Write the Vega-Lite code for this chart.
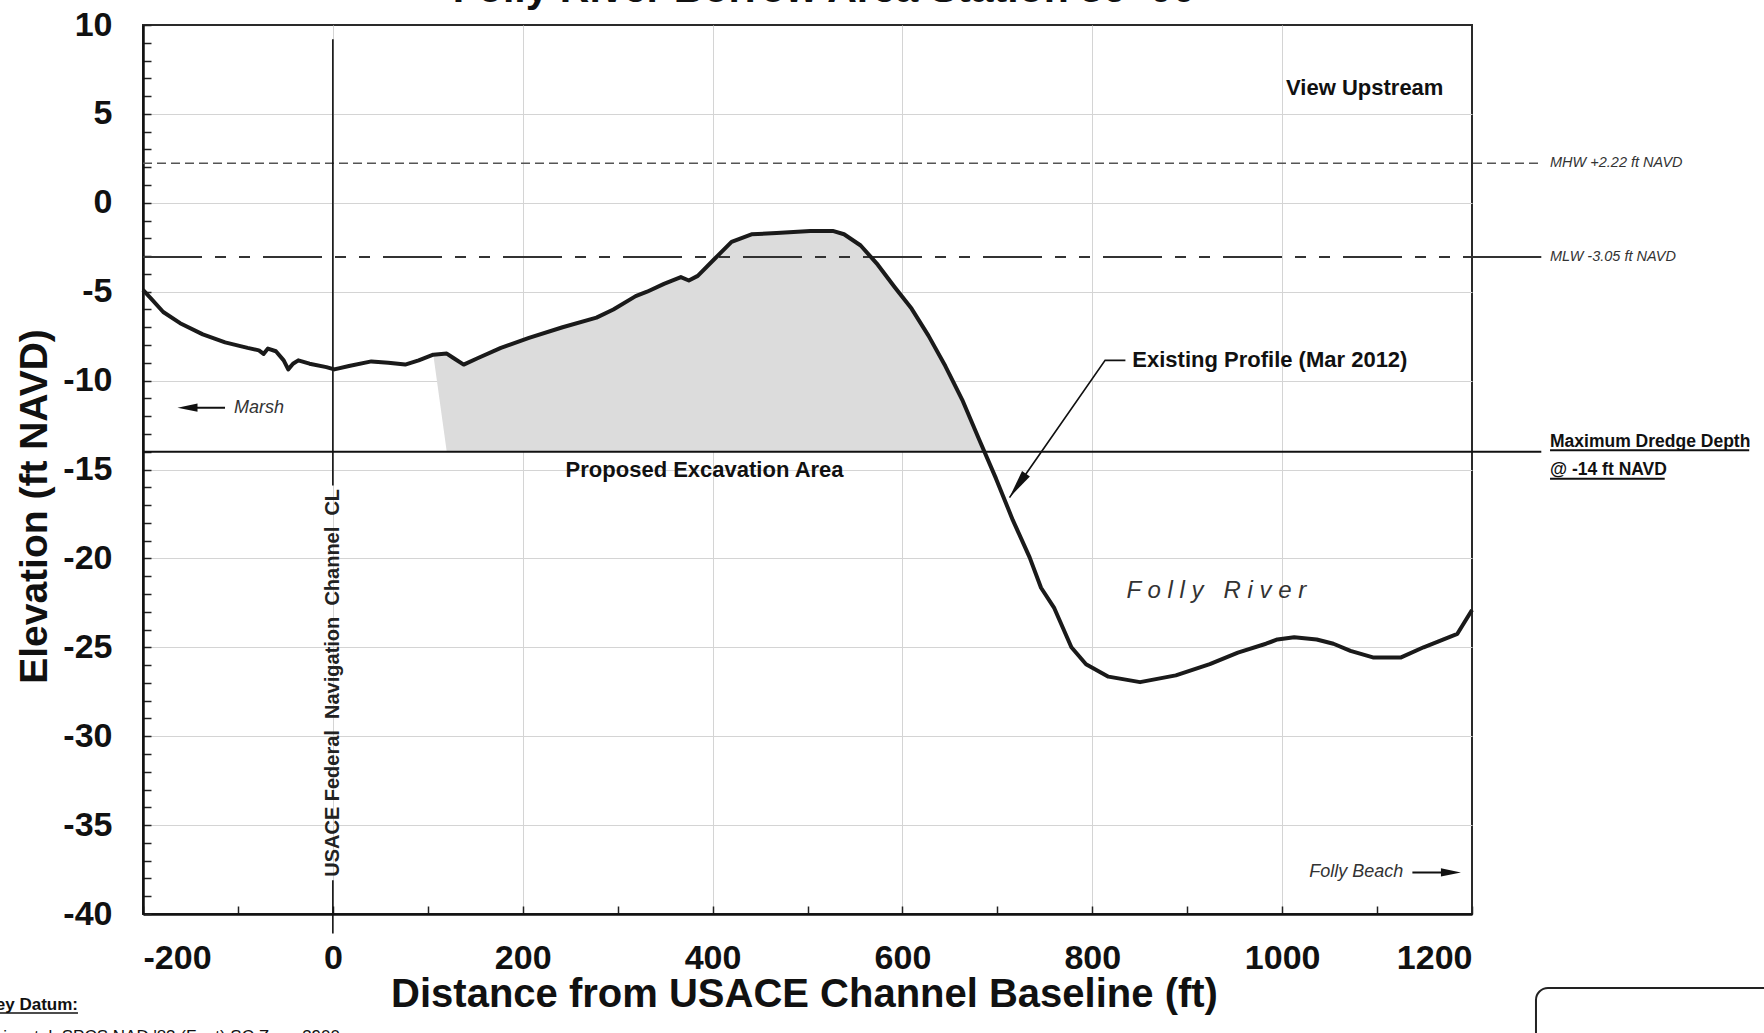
{
  "$schema": "https://vega.github.io/schema/vega-lite/v6.json",
  "width": 1329,
  "height": 889,
  "autosize": {"type": "none"},
  "padding": {"left": 143, "top": 25, "right": 292, "bottom": 119},
  "background": "white",
  "config": {
    "view": {"stroke": "#2a2a2a", "strokeWidth": 2},
    "axis": {
      "domainColor": "#111", "domainWidth": 2.5,
      "tickColor": "#222", "tickWidth": 1.5,
      "labelFont": "Liberation Sans", "labelFontWeight": "bold", "labelFontSize": 34, "labelColor": "#111",
      "titleFont": "Liberation Sans", "titleFontWeight": "bold", "titleColor": "#111",
      "gridColor": "#d4d4d4", "gridWidth": 1
    }
  },
  "encoding": {
    "x": {
      "field": "x", "type": "quantitative",
      "scale": {"domain": [-200, 1200], "nice": false, "zero": false},
      "axis": {
        "values": [-200, -100, 0, 100, 200, 300, 400, 500, 600, 700, 800, 900, 1000, 1100, 1200],
        "labelExpr": "datum.value % 200 === 0 ? '' + datum.value : ''",
        "tickSize": -8, "labelPadding": 35,
        "grid": true,
        "gridOpacity": {"condition": {"test": "datum.value % 200 === 0 && datum.value > -200 && datum.value < 1200", "value": 1}, "value": 0},
        "title": "Distance from USACE Channel Baseline (ft)",
        "titleFontSize": 40, "titleX": 661, "titleY": 80, "titleBaseline": "middle", "titleAlign": "center"
      }
    },
    "y": {
      "field": "y", "type": "quantitative",
      "scale": {"domain": [-40, 10], "nice": false, "zero": false},
      "axis": {
        "values": [-40,-39,-38,-37,-36,-35,-34,-33,-32,-31,-30,-29,-28,-27,-26,-25,-24,-23,-22,-21,-20,-19,-18,-17,-16,-15,-14,-13,-12,-11,-10,-9,-8,-7,-6,-5,-4,-3,-2,-1,0,1,2,3,4,5,6,7,8,9,10],
        "labelExpr": "datum.value % 5 === 0 ? '' + datum.value : ''",
        "tickSize": -8, "labelPadding": 39,
        "grid": true,
        "gridOpacity": {"condition": {"test": "datum.value % 5 === 0 && datum.value > -40 && datum.value < 10", "value": 1}, "value": 0},
        "title": "Elevation (ft NAVD)",
        "titleFontSize": 39, "titleAngle": 270, "titleX": -109, "titleY": 481, "titleBaseline": "middle", "titleAlign": "center"
      }
    }
  },
  "layer": [
    {
      "data": {"values": [
        {"x": 105.8, "y": -8.54, "y2": -8.54},
        {"x": 120, "y": -8.48, "y2": -14},
        {"x": 127, "y": -8.73, "y2": -14},
        {"x": 137.8, "y": -9.1, "y2": -14},
        {"x": 153, "y": -8.73, "y2": -14},
        {"x": 177, "y": -8.16, "y2": -14},
        {"x": 206.6, "y": -7.6, "y2": -14},
        {"x": 242, "y": -7.0, "y2": -14},
        {"x": 277.7, "y": -6.46, "y2": -14},
        {"x": 295.5, "y": -6.0, "y2": -14},
        {"x": 319, "y": -5.25, "y2": -14},
        {"x": 331, "y": -5.0, "y2": -14},
        {"x": 348.8, "y": -4.56, "y2": -14},
        {"x": 366.6, "y": -4.18, "y2": -14},
        {"x": 375, "y": -4.37, "y2": -14},
        {"x": 384.4, "y": -4.11, "y2": -14},
        {"x": 402, "y": -3.16, "y2": -14},
        {"x": 420, "y": -2.2, "y2": -14},
        {"x": 441, "y": -1.77, "y2": -14},
        {"x": 467.4, "y": -1.7, "y2": -14},
        {"x": 503, "y": -1.58, "y2": -14},
        {"x": 526.6, "y": -1.58, "y2": -14},
        {"x": 538.5, "y": -1.77, "y2": -14},
        {"x": 556, "y": -2.4, "y2": -14},
        {"x": 574, "y": -3.48, "y2": -14},
        {"x": 591.9, "y": -4.75, "y2": -14},
        {"x": 609.6, "y": -5.95, "y2": -14},
        {"x": 627.4, "y": -7.47, "y2": -14},
        {"x": 645.2, "y": -9.18, "y2": -14},
        {"x": 663, "y": -11.08, "y2": -14},
        {"x": 680.7, "y": -13.3, "y2": -14},
        {"x": 686.5, "y": -14, "y2": -14}
      ]},
      "mark": {"type": "area", "orient": "vertical", "color": "#dcdcdc", "opacity": 1},
      "encoding": {"y2": {"field": "y2"}}
    },
    {
      "data": {"values": [{"x": -200, "x2": 1273, "y": 2.22}]},
      "mark": {"type": "rule", "color": "#555", "strokeWidth": 1.5, "strokeDash": [9, 5]},
      "encoding": {"x2": {"field": "x2"}}
    },
    {
      "data": {"values": [{"x": -200, "x2": 1200, "y": -3.05}]},
      "mark": {"type": "rule", "color": "#333", "strokeWidth": 2, "strokeDash": [59, 13, 11, 13, 11, 13]},
      "encoding": {"x2": {"field": "x2"}}
    },
    {
      "data": {"values": [{"x": 1200, "x2": 1273, "y": -3.05}]},
      "mark": {"type": "rule", "color": "#333", "strokeWidth": 2},
      "encoding": {"x2": {"field": "x2"}}
    },
    {
      "data": {"values": [
        {"x": -200, "x2": 1273, "y": -14},
        {"x": 1282.2, "x2": 1492, "y": -13.92},
        {"x": 1282.2, "x2": 1403, "y": -15.52}
      ]},
      "mark": {"type": "rule", "color": "#111", "strokeWidth": 2},
      "encoding": {"x2": {"field": "x2"}}
    },
    {
      "data": {"values": [{"x": 0, "y": 9.2, "y2": -15.9}, {"x": 0, "y": -38.1, "y2": -41.1}]},
      "mark": {"type": "rule", "color": "#111", "strokeWidth": 1.6},
      "encoding": {"y2": {"field": "y2"}}
    },
    {
      "data": {"values": [
        {"x": -200, "y": -4.9}, {"x": -190.5, "y": -5.44}, {"x": -178.7, "y": -6.14}, {"x": -160.9, "y": -6.77},
        {"x": -137, "y": -7.4}, {"x": -113.5, "y": -7.85}, {"x": -89.8, "y": -8.16}, {"x": -77.9, "y": -8.3},
        {"x": -73, "y": -8.5}, {"x": -68.4, "y": -8.2}, {"x": -60, "y": -8.35}, {"x": -51.8, "y": -8.86},
        {"x": -47, "y": -9.37}, {"x": -42, "y": -9.05}, {"x": -36.4, "y": -8.86}, {"x": -24.6, "y": -9.05},
        {"x": -6.8, "y": -9.24}, {"x": 1.5, "y": -9.37}, {"x": 17, "y": -9.18}, {"x": 40.6, "y": -8.92},
        {"x": 58.4, "y": -8.99}, {"x": 76.2, "y": -9.1}, {"x": 90.4, "y": -8.86}, {"x": 105.8, "y": -8.54},
        {"x": 120, "y": -8.48}, {"x": 127, "y": -8.73}, {"x": 137.8, "y": -9.1}, {"x": 153, "y": -8.73},
        {"x": 177, "y": -8.16}, {"x": 206.6, "y": -7.6}, {"x": 242, "y": -7.0}, {"x": 277.7, "y": -6.46},
        {"x": 295.5, "y": -6.0}, {"x": 319, "y": -5.25}, {"x": 331, "y": -5.0}, {"x": 348.8, "y": -4.56},
        {"x": 366.6, "y": -4.18}, {"x": 375, "y": -4.37}, {"x": 384.4, "y": -4.11}, {"x": 402, "y": -3.16},
        {"x": 420, "y": -2.2}, {"x": 441, "y": -1.77}, {"x": 467.4, "y": -1.7}, {"x": 503, "y": -1.58},
        {"x": 526.6, "y": -1.58}, {"x": 538.5, "y": -1.77}, {"x": 556, "y": -2.4}, {"x": 574, "y": -3.48},
        {"x": 591.9, "y": -4.75}, {"x": 609.6, "y": -5.95}, {"x": 627.4, "y": -7.47}, {"x": 645.2, "y": -9.18},
        {"x": 663, "y": -11.08}, {"x": 680.7, "y": -13.3}, {"x": 698.5, "y": -15.5}, {"x": 716.3, "y": -17.85},
        {"x": 734, "y": -19.94}, {"x": 746, "y": -21.65}, {"x": 760, "y": -22.8}, {"x": 778, "y": -25.0},
        {"x": 793.4, "y": -25.95}, {"x": 817, "y": -26.65}, {"x": 850.3, "y": -26.96}, {"x": 888, "y": -26.58},
        {"x": 923.8, "y": -25.95}, {"x": 953.4, "y": -25.3}, {"x": 983, "y": -24.8}, {"x": 995, "y": -24.56},
        {"x": 1012.7, "y": -24.43}, {"x": 1036.4, "y": -24.56}, {"x": 1054, "y": -24.8}, {"x": 1072, "y": -25.2},
        {"x": 1095.6, "y": -25.57}, {"x": 1125.3, "y": -25.57}, {"x": 1149, "y": -25.0}, {"x": 1184.6, "y": -24.24},
        {"x": 1200, "y": -22.9}
      ]},
      "mark": {"type": "line", "color": "#1a1a1a", "strokeWidth": 4, "strokeJoin": "round"}
    },
    {
      "data": {"values": [
        {"x": 834.9, "y": -8.86, "o": 1}, {"x": 813.5, "y": -8.86, "o": 2}, {"x": 712.8, "y": -16.58, "o": 3}
      ]},
      "mark": {"type": "line", "color": "#111", "strokeWidth": 1.6},
      "encoding": {"order": {"field": "o"}}
    },
    {
      "data": {"values": [{"x": 721.4, "y": -15.91}]},
      "mark": {"type": "point", "shape": "M0,-1L-0.33,1L0.33,1Z", "angle": 214.9, "size": 841, "filled": true, "color": "#111", "opacity": 1}
    },
    {
      "data": {"values": [{"x": -113.6, "x2": -155, "y": -11.52}, {"x": 1137.2, "x2": 1180, "y": -37.66}]},
      "mark": {"type": "rule", "color": "#111", "strokeWidth": 2},
      "encoding": {"x2": {"field": "x2"}}
    },
    {
      "data": {"values": [{"x": -153.1, "y": -11.52}]},
      "mark": {"type": "point", "shape": "M-1,0L1,-0.42L1,0.42Z", "size": 400, "filled": true, "color": "#111", "opacity": 1}
    },
    {
      "data": {"values": [{"x": 1177.8, "y": -37.66}]},
      "mark": {"type": "point", "shape": "M1,0L-1,-0.42L-1,0.42Z", "size": 400, "filled": true, "color": "#111", "opacity": 1}
    },
    {
      "data": {"values": [{"x": 1169.9, "y": 6.46, "t": "View Upstream"}]},
      "mark": {"type": "text", "font": "Liberation Sans", "fontWeight": "bold", "fontSize": 22, "align": "right", "baseline": "middle", "color": "#111"},
      "encoding": {"text": {"field": "t"}}
    },
    {
      "data": {"values": [{"x": 842.2, "y": -8.86, "t": "Existing Profile (Mar 2012)"}]},
      "mark": {"type": "text", "font": "Liberation Sans", "fontWeight": "bold", "fontSize": 22, "align": "left", "baseline": "middle", "color": "#111"},
      "encoding": {"text": {"field": "t"}}
    },
    {
      "data": {"values": [{"x": 391.6, "y": -15.04, "t": "Proposed Excavation Area"}]},
      "mark": {"type": "text", "font": "Liberation Sans", "fontWeight": "bold", "fontSize": 22, "align": "center", "baseline": "middle", "color": "#111"},
      "encoding": {"text": {"field": "t"}}
    },
    {
      "data": {"values": [
        {"x": 1282.2, "y": 2.22, "t": "MHW +2.22 ft NAVD"},
        {"x": 1282.2, "y": -3.05, "t": "MLW -3.05 ft NAVD"}
      ]},
      "mark": {"type": "text", "font": "Liberation Sans", "fontStyle": "italic", "fontSize": 14.5, "align": "left", "baseline": "middle", "color": "#333"},
      "encoding": {"text": {"field": "t"}}
    },
    {
      "data": {"values": [{"x": -104.1, "y": -11.52, "t": "Marsh"}]},
      "mark": {"type": "text", "font": "Liberation Sans", "fontStyle": "italic", "fontSize": 18, "align": "left", "baseline": "middle", "color": "#333"},
      "encoding": {"text": {"field": "t"}}
    },
    {
      "data": {"values": [{"x": 1127.7, "y": -37.66, "t": "Folly Beach"}]},
      "mark": {"type": "text", "font": "Liberation Sans", "fontStyle": "italic", "fontSize": 18, "align": "right", "baseline": "middle", "color": "#333"},
      "encoding": {"text": {"field": "t"}}
    },
    {
      "data": {"values": [
        {"x": 1282.2, "y": -13.75, "t": "Maximum Dredge Depth"},
        {"x": 1282.2, "y": -15.29, "t": "@ -14 ft NAVD"}
      ]},
      "mark": {"type": "text", "font": "Liberation Sans", "fontWeight": "bold", "fontSize": 17.5, "align": "left", "baseline": "alphabetic", "color": "#111"},
      "encoding": {"text": {"field": "t"}}
    },
    {
      "data": {"values": [{"x": 0, "y": -27.0, "t": "USACE Federal\u00a0 Navigation\u00a0 Channel\u00a0 CL"}]},
      "mark": {"type": "text", "font": "Liberation Sans", "fontWeight": "bold", "fontSize": 20, "angle": 270, "align": "center", "baseline": "middle", "color": "#222"},
      "encoding": {"text": {"field": "t"}}
    },
    {
      "data": {"values": [{"x": 930.7, "y": -21.85, "t": "F o l l y \u00a0 R i v e r"}]},
      "mark": {"type": "text", "font": "Liberation Sans", "fontStyle": "italic", "fontSize": 24, "align": "center", "baseline": "middle", "color": "#333"},
      "encoding": {"text": {"field": "t"}}
    },
    {
      "data": {"values": [{"x": 517.4, "y": 11.28, "t": "Folly River Borrow Area Station 36+00"}]},
      "mark": {"type": "text", "font": "Liberation Sans", "fontWeight": "bold", "fontSize": 41, "align": "center", "baseline": "alphabetic", "color": "#111"},
      "encoding": {"text": {"field": "t"}}
    },
    {
      "data": {"values": [{"x": -268.5, "y": -45.4, "t": "Survey Datum:"}]},
      "mark": {"type": "text", "font": "Liberation Sans", "fontWeight": "bold", "fontSize": 17, "align": "right", "baseline": "alphabetic", "color": "#111"},
      "encoding": {"text": {"field": "t"}}
    },
    {
      "data": {"values": [{"x": 7.5, "y": -47.2, "t": "Horizontal: SPCS NAD '83 (Feet) SC Zone 3900"}]},
      "mark": {"type": "text", "font": "Liberation Sans", "fontSize": 17, "align": "right", "baseline": "alphabetic", "color": "#111"},
      "encoding": {"text": {"field": "t"}}
    },
    {
      "data": {"values": [{"x": -400, "x2": -268.5, "y": -45.57}]},
      "mark": {"type": "rule", "color": "#111", "strokeWidth": 1.5},
      "encoding": {"x2": {"field": "x2"}}
    },
    {
      "data": {"values": [{"x": 1267.4, "x2": 1700, "y": -44.16, "y2": -60}]},
      "mark": {"type": "rect", "fill": null, "fillOpacity": 0, "stroke": "#222", "strokeWidth": 2, "cornerRadius": 12},
      "encoding": {"x2": {"field": "x2"}, "y2": {"field": "y2"}}
    }
  ]
}
